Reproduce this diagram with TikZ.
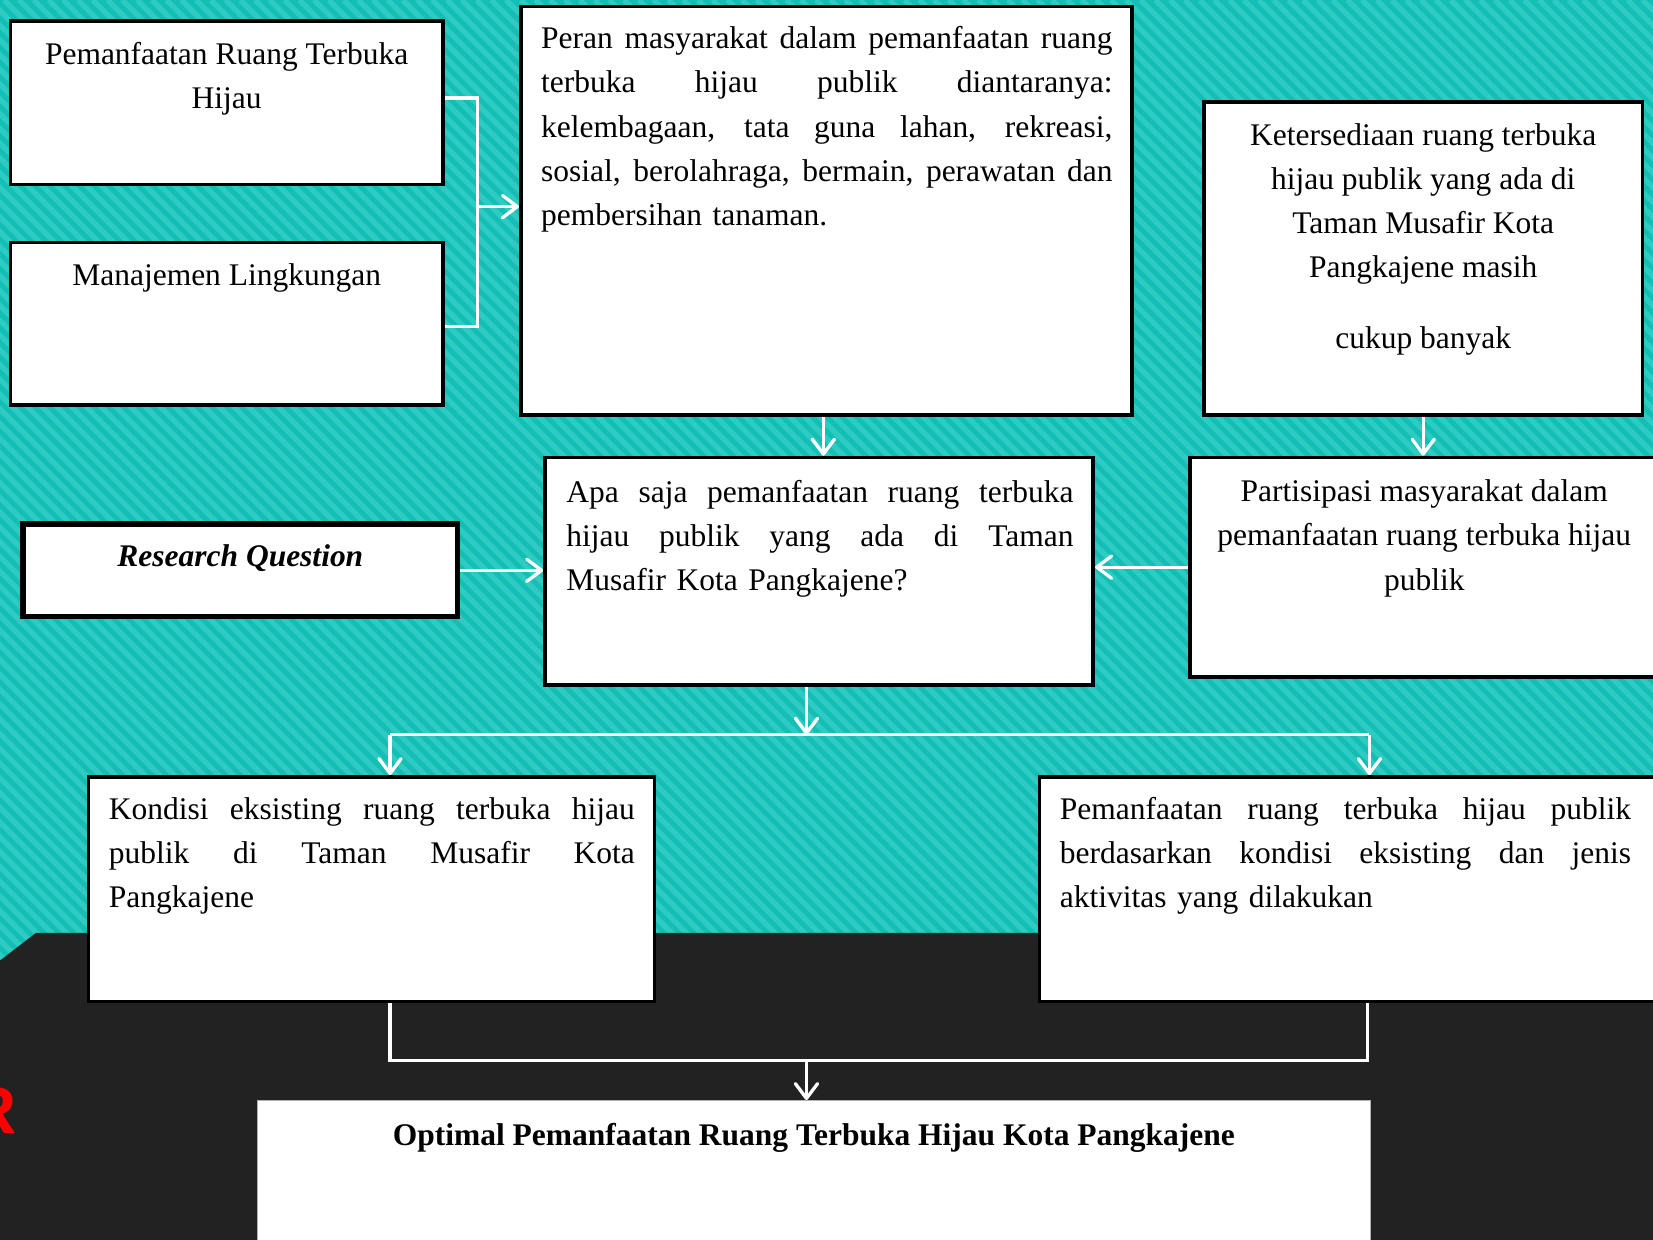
\documentclass[tikz,border=0pt]{standalone}
\usepackage{fontspec}
\setmainfont{Liberation Serif}
\newfontfamily\redfont{Liberation Sans}
\usetikzlibrary{arrows.meta,backgrounds}
\definecolor{tealbase}{RGB}{19,191,181}
\definecolor{tealstripe}{RGB}{46,203,194}
\definecolor{darkbg}{RGB}{34,34,34}
\newcommand{\jl}[2]{\leavevmode\hbox to #1{\spaceskip=0.25em plus 1fil\relax #2}}
\begin{document}
\begin{tikzpicture}[x=0.02cm,y=-0.02cm,
  box/.style={draw=black, fill=white, line width=2pt, inner sep=0pt, rectangle},
  txt/.style={inner sep=0pt, font=\fontsize{17pt}{23.8pt}\selectfont, text=black},
  conn/.style={draw=white, line width=1.8pt},
  arr/.style={conn, -{Straight Barb[length=8pt,width=12pt,round]}},
]
\useasboundingbox (0,0) rectangle (1568,1176);

% boxes
\node[box, minimum width=8.2cm, minimum height=3.1cm] (A) at (215,97.5) {};
\node[box, minimum width=8.2cm, minimum height=3.08cm] (B) at (215,307) {};
\node[box, minimum width=11.6cm, minimum height=7.76cm] (C) at (784,200) {};
\node[box, minimum width=8.32cm, minimum height=5.94cm] (D) at (1350,245.5) {};
\node[box, minimum width=10.4cm, minimum height=4.32cm] (E) at (777,542) {};
\node[box, minimum width=9.42cm, minimum height=4.16cm] (F) at (1364.5,538) {};
\node[box, line width=3pt, minimum width=8.24cm, minimum height=1.76cm] (RQ) at (228,541) {};
\node[box, minimum width=10.74cm, minimum height=4.26cm] (G) at (352.5,843.5) {};
\node[box, minimum width=12.28cm, minimum height=4.26cm] (H) at (1293,843.5) {};
\node[box, draw=gray!60, line width=0.6pt, minimum width=21.12cm, minimum height=3.12cm] (I) at (772,1122) {};

% texts
\node[txt, anchor=north, align=center] (At) at (215,40) {Pemanfaatan Ruang Terbuka\\Hijau};
\node[txt, anchor=north, align=center] (Bt) at (215,250) {Manajemen Lingkungan};
\node[txt, anchor=north west, text width=10.84cm, align=left] (Ct) at (513,25) {\jl{10.84cm}{Peran masyarakat dalam pemanfaatan ruang}\\\jl{10.84cm}{terbuka hijau publik diantaranya:}\\\jl{10.84cm}{kelembagaan, tata guna lahan, rekreasi,}\\\jl{10.84cm}{sosial, berolahraga, bermain, perawatan dan}\\pembersihan tanaman.};
\node[txt, anchor=north, align=center] (Dt) at (1350,117) {Ketersediaan ruang terbuka\\hijau publik yang ada di\\Taman Musafir Kota\\Pangkajene masih\\[14.2pt]cukup banyak};
\node[txt, anchor=north west, text width=9.62cm, align=left] (Et) at (537,455) {\jl{9.62cm}{Apa saja pemanfaatan ruang terbuka}\\\jl{9.62cm}{hijau publik yang ada di Taman}\\Musafir Kota Pangkajene?};
\node[txt, anchor=north, align=center] (Ft) at (1351,455) {Partisipasi masyarakat dalam\\pemanfaatan ruang terbuka hijau\\publik};
\node[txt, anchor=base, font=\fontsize{17pt}{23.8pt}\selectfont\bfseries\itshape] (RQt) at (228,537) {Research Question};
\node[txt, anchor=north west, text width=9.98cm, align=left] (Gt) at (103,756) {\jl{9.98cm}{Kondisi eksisting ruang terbuka hijau}\\\jl{9.98cm}{publik di Taman Musafir Kota}\\Pangkajene};
\node[txt, anchor=north west, text width=10.84cm, align=left] (Ht) at (1005,756) {\jl{10.84cm}{Pemanfaatan ruang terbuka hijau publik}\\\jl{10.84cm}{berdasarkan kondisi eksisting dan jenis}\\aktivitas yang dilakukan};
\node[txt, anchor=base, font=\fontsize{17pt}{23.8pt}\selectfont\bfseries] (It) at (772,1087) {Optimal Pemanfaatan Ruang Terbuka Hijau Kota Pangkajene};

\begin{pgfonlayer}{background}
\begin{scope}
\clip (0,0) rectangle (1568,1176);
\fill[tealbase] (0,0) rectangle (1568,1176);
\foreach \a in {-1200,-1186,...,1580} \draw[tealstripe, line width=0.1cm] (\a,0) -- ++(1200,1200);
\fill[darkbg] (34,885) -- (1575,885) -- (1575,1185) -- (-5,1185) -- (-5,915) -- cycle;
\node[anchor=base east, inner sep=0pt, text=red, font=\redfont\bfseries\fontsize{36pt}{36pt}\selectfont] (rr) at (16,1075) {R};
\end{scope}
% connectors
\coordinate (m1) at (453,196);
\coordinate (c1) at (781,0);
\draw[conn] ([yshift=0.09cm]A.east) -| (m1) |- ([yshift=-0.06cm]B.east);
\draw[arr] (m1) -- (m1 -| C.west);
\draw[arr] (c1 |- C.south) -- (c1 |- E.north);
\draw[arr] (D.south) -- (D.south |- F.north);
\draw[arr] (F.west) -- (F.west -| E.east);
\draw[arr] (RQ.east) -- (RQ.east -| E.west);
\coordinate (j1) at (765,697);
\coordinate (g1) at (370,697);
\coordinate (h1) at (1299,697);
\draw[arr] (j1 |- E.south) -- (j1);
\draw[conn] (g1) -- (h1);
\draw[arr] (g1) -- (g1 |- G.north);
\draw[arr] (h1) -- (h1 |- H.north);
\coordinate (g2) at (370,1006);
\coordinate (h2) at (1297,1006);
\coordinate (j2) at (765,1006);
\draw[conn] (g2 |- G.south) -- (g2) -- (h2) -- (h2 |- H.south);
\draw[arr] (j2) -- (j2 |- I.north);
\end{pgfonlayer}
\end{tikzpicture}
\end{document}
